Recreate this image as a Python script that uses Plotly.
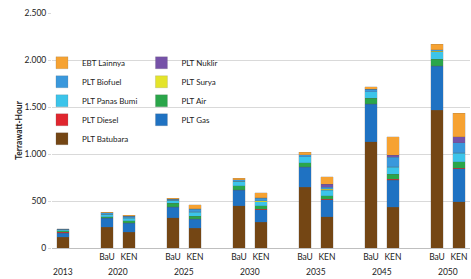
import plotly.graph_objects as go

years = ["2013", "2020", "2025", "2030", "2035", "2045", "2050"]
scenarios = [[""], ["BaU", "KEN"], ["BaU", "KEN"], ["BaU", "KEN"],
             ["BaU", "KEN"], ["BaU", "KEN"], ["BaU", "KEN"]]

# values per bar (2013, 2020 BaU, 2020 KEN, 2025 BaU, ...), TWh
batubara = [112, 220, 165, 320, 210, 447, 273, 646, 333, 1130, 433, 1468, 493]
gas = [44, 95, 100, 113, 98, 170, 135, 215, 180, 400, 290, 465, 350]
diesel = [12, 5, 3, 5, 5, 5, 5, 5, 5, 5, 8, 5, 5]
air = [16, 15, 22, 37, 27, 40, 35, 42, 39, 57, 56, 70, 70]
panas_bumi = [8, 25, 25, 35, 40, 50, 45, 62, 60, 70, 70, 80, 90]
surya = [0, 0, 8, 0, 8, 0, 10, 0, 10, 0, 8, 5, 6]
biofuel = [8, 15, 15, 10, 22, 15, 25, 22, 20, 25, 100, 15, 106]
nuklir = [0, 0, 0, 0, 5, 0, 5, 0, 30, 0, 21, 0, 64]
ebt_lainnya = [6, 5, 12, 10, 45, 13, 55, 25, 80, 28, 198, 59, 249]

series = [
    ("PLT Batubara", batubara, "#744614", "legend"),
    ("PLT Gas", gas, "#1f72c2", "legend2"),
    ("PLT Diesel", diesel, "#e0262e", "legend"),
    ("PLT Air", air, "#2aa64a", "legend2"),
    ("PLT Panas Bumi", panas_bumi, "#3cc4ea", "legend"),
    ("PLT Surya", surya, "#e4e42a", "legend2"),
    ("PLT Biofuel", biofuel, "#3a98dc", "legend"),
    ("PLT Nuklir", nuklir, "#7652a8", "legend2"),
    ("EBT Lainnya", ebt_lainnya, "#f6a232", "legend"),
]

# build category slots: bars plus an empty slot between year groups
categories = []
bar_cats = []
tick_text = []
year_pos = []
for gi, (yr, scs) in enumerate(zip(years, scenarios)):
    idxs = []
    for sc in scs:
        key = yr + "|" + sc
        idxs.append(len(categories))
        categories.append(key)
        bar_cats.append(key)
        tick_text.append(sc)
    year_pos.append(sum(idxs) / len(idxs))
    if gi < len(years) - 1:
        categories.append("gap" + str(gi))
        tick_text.append("")

FONT = "Lato"
fig = go.Figure()
for name, vals, color, lg in series:
    fig.add_trace(go.Bar(
        x=bar_cats, y=vals, name=name, legend=lg,
        marker=dict(color=color, line=dict(width=0.5, color="rgba(90,90,90,0.35)")),
    ))

for yr, pos in zip(years, year_pos):
    fig.add_annotation(x=pos, xref="x", y=0, yref="paper", yshift=-24,
                       text=yr, showarrow=False, yanchor="middle",
                       font=dict(family=FONT, size=8.5, color="#222"))

fig.update_layout(
    width=471, height=279,
    margin=dict(l=52, r=1, t=13, b=31),
    barmode="stack", bargap=0.43,
    plot_bgcolor="white", paper_bgcolor="white",
    separators=",.",
    font=dict(family=FONT, size=8.5, color="#222"),
    legend=dict(x=-0.024, y=0.85, xanchor="left", yanchor="top",
                traceorder="reversed", bgcolor="rgba(0,0,0,0)",
                font=dict(family=FONT, size=8, color="#222")),
    legend2=dict(x=0.214, y=0.85, xanchor="left", yanchor="top",
                 traceorder="reversed", bgcolor="rgba(0,0,0,0)",
                 font=dict(family=FONT, size=8, color="#222")),
    showlegend=True,
)
fig.update_xaxes(type="category", categoryorder="array", categoryarray=categories,
                 tickvals=categories, ticktext=tick_text, ticks="",
                 ticklabelstandoff=2,
                 showgrid=False, showline=False, range=[-0.5, len(categories) - 0.5],
                 tickfont=dict(family=FONT, size=8.5, color="#222"))
fig.update_yaxes(range=[0, 2500], dtick=500, tickformat=",d",
                 showgrid=True, gridcolor="#d9d9d9", gridwidth=1,
                 zeroline=True, zerolinecolor="#bfbfbf", zerolinewidth=1,
                 ticks="outside", ticklen=3, tickcolor="#d9d9d9",
                 title=dict(text="<b>Terrawatt-Hour</b>", standoff=0,
                            font=dict(family=FONT, size=8.5, color="#222")),
                 tickfont=dict(family=FONT, size=8.5, color="#222"))

fig.write_html("out.html", config={"displayModeBar": False},
               post_script="document.body.style.margin='0';")
